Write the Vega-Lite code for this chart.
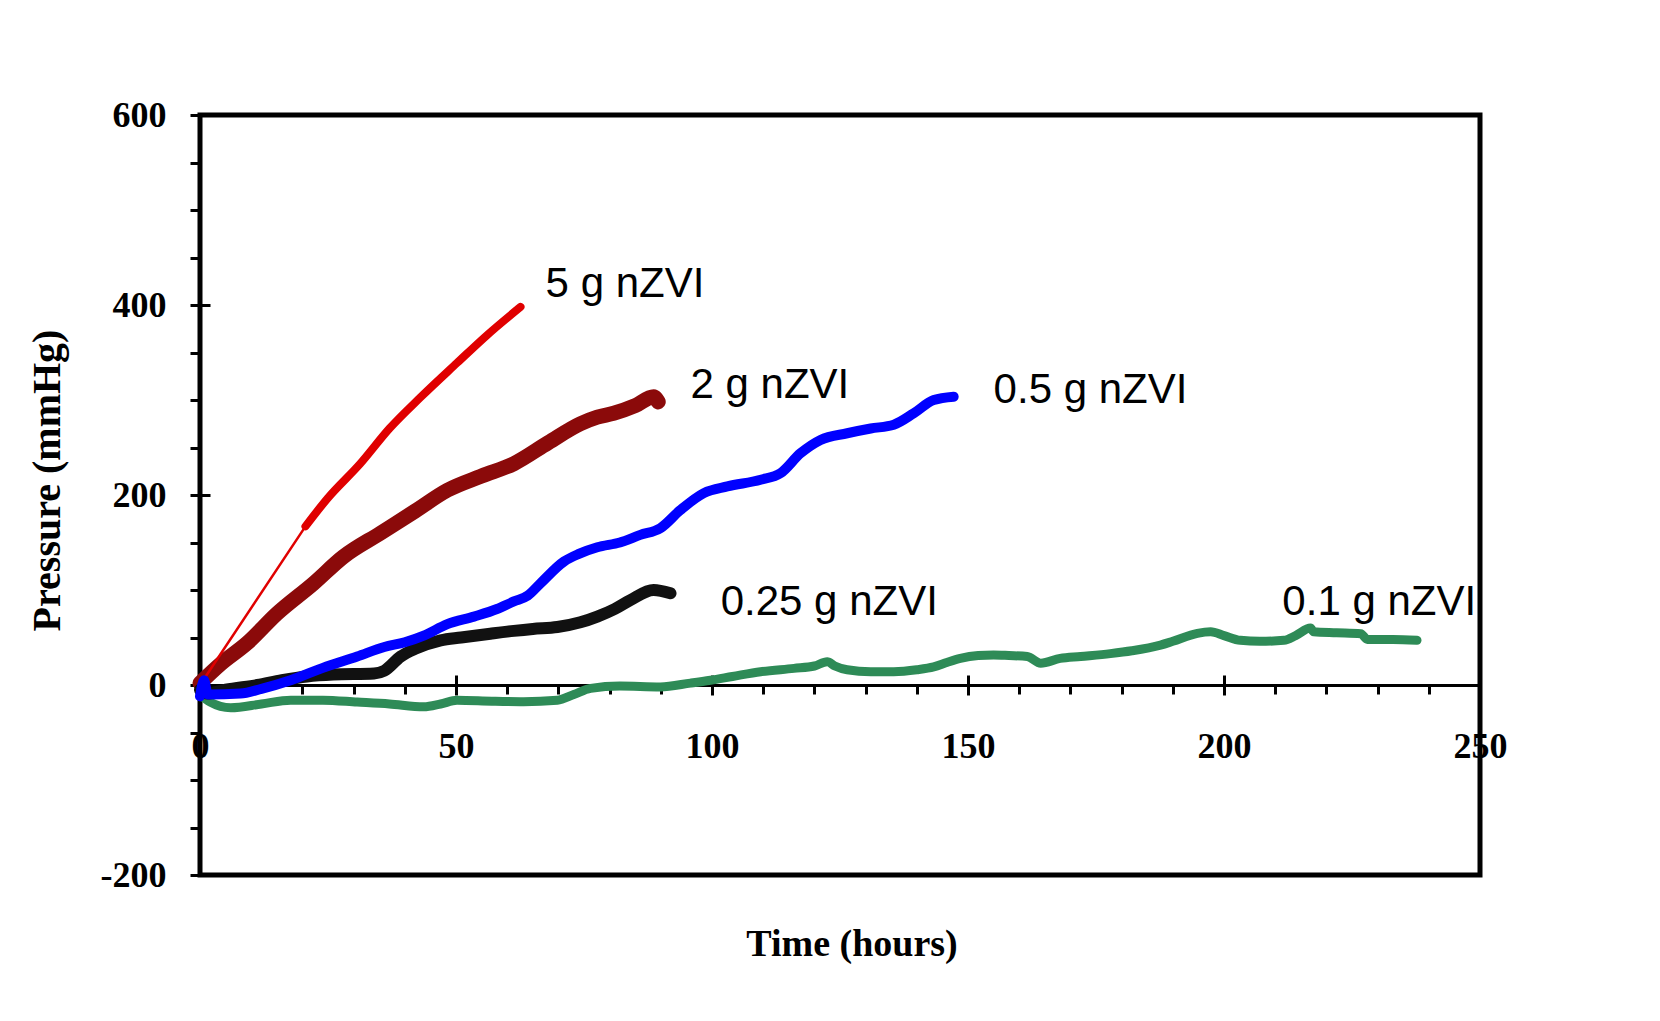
{
  "$schema": "https://vega.github.io/schema/vega-lite/v6.json",
  "width": 1280,
  "height": 760,
  "autosize": {"type": "none"},
  "padding": {"left": 200, "top": 115, "right": 180, "bottom": 146},
  "background": "white",
  "config": {
    "view": {"stroke": "black", "strokeWidth": 5},
    "axis": {"grid": false, "tickColor": "black", "domainColor": "black", "labelColor": "black", "titleColor": "black"}
  },
  "datasets": {
    "series": [
      {"sample": "0.1 g nZVI", "time": 0, "pressure": -10},
      {"sample": "0.1 g nZVI", "time": 2, "pressure": -18},
      {"sample": "0.1 g nZVI", "time": 6, "pressure": -24},
      {"sample": "0.1 g nZVI", "time": 12, "pressure": -20},
      {"sample": "0.1 g nZVI", "time": 17.7, "pressure": -16},
      {"sample": "0.1 g nZVI", "time": 24, "pressure": -16},
      {"sample": "0.1 g nZVI", "time": 30.7, "pressure": -18},
      {"sample": "0.1 g nZVI", "time": 37, "pressure": -20},
      {"sample": "0.1 g nZVI", "time": 43.7, "pressure": -23},
      {"sample": "0.1 g nZVI", "time": 47, "pressure": -20},
      {"sample": "0.1 g nZVI", "time": 50.2, "pressure": -16},
      {"sample": "0.1 g nZVI", "time": 57, "pressure": -17},
      {"sample": "0.1 g nZVI", "time": 63.2, "pressure": -17.5},
      {"sample": "0.1 g nZVI", "time": 69.8, "pressure": -16},
      {"sample": "0.1 g nZVI", "time": 73, "pressure": -10},
      {"sample": "0.1 g nZVI", "time": 76.3, "pressure": -3.5},
      {"sample": "0.1 g nZVI", "time": 82, "pressure": -1},
      {"sample": "0.1 g nZVI", "time": 89.9, "pressure": -2},
      {"sample": "0.1 g nZVI", "time": 95.8, "pressure": 2},
      {"sample": "0.1 g nZVI", "time": 99.7, "pressure": 5},
      {"sample": "0.1 g nZVI", "time": 104, "pressure": 9},
      {"sample": "0.1 g nZVI", "time": 109.5, "pressure": 14},
      {"sample": "0.1 g nZVI", "time": 116, "pressure": 17.5},
      {"sample": "0.1 g nZVI", "time": 120, "pressure": 20},
      {"sample": "0.1 g nZVI", "time": 122.5, "pressure": 24.5},
      {"sample": "0.1 g nZVI", "time": 124, "pressure": 20},
      {"sample": "0.1 g nZVI", "time": 126.4, "pressure": 16},
      {"sample": "0.1 g nZVI", "time": 131, "pressure": 14},
      {"sample": "0.1 g nZVI", "time": 135.5, "pressure": 14},
      {"sample": "0.1 g nZVI", "time": 140, "pressure": 16},
      {"sample": "0.1 g nZVI", "time": 143.3, "pressure": 19},
      {"sample": "0.1 g nZVI", "time": 146, "pressure": 24},
      {"sample": "0.1 g nZVI", "time": 148.5, "pressure": 28},
      {"sample": "0.1 g nZVI", "time": 152, "pressure": 31},
      {"sample": "0.1 g nZVI", "time": 155, "pressure": 31.6},
      {"sample": "0.1 g nZVI", "time": 158, "pressure": 31},
      {"sample": "0.1 g nZVI", "time": 161.6, "pressure": 30},
      {"sample": "0.1 g nZVI", "time": 164.2, "pressure": 23},
      {"sample": "0.1 g nZVI", "time": 168, "pressure": 28},
      {"sample": "0.1 g nZVI", "time": 172, "pressure": 30},
      {"sample": "0.1 g nZVI", "time": 177.8, "pressure": 33},
      {"sample": "0.1 g nZVI", "time": 182, "pressure": 36},
      {"sample": "0.1 g nZVI", "time": 187.6, "pressure": 42},
      {"sample": "0.1 g nZVI", "time": 190, "pressure": 46},
      {"sample": "0.1 g nZVI", "time": 194.8, "pressure": 54.4},
      {"sample": "0.1 g nZVI", "time": 197.4, "pressure": 56},
      {"sample": "0.1 g nZVI", "time": 200, "pressure": 52},
      {"sample": "0.1 g nZVI", "time": 203.2, "pressure": 47},
      {"sample": "0.1 g nZVI", "time": 207, "pressure": 46},
      {"sample": "0.1 g nZVI", "time": 211.7, "pressure": 47},
      {"sample": "0.1 g nZVI", "time": 214, "pressure": 52},
      {"sample": "0.1 g nZVI", "time": 216.9, "pressure": 60},
      {"sample": "0.1 g nZVI", "time": 217.5, "pressure": 56},
      {"sample": "0.1 g nZVI", "time": 222, "pressure": 55},
      {"sample": "0.1 g nZVI", "time": 226.7, "pressure": 54},
      {"sample": "0.1 g nZVI", "time": 228, "pressure": 48},
      {"sample": "0.1 g nZVI", "time": 233, "pressure": 48},
      {"sample": "0.1 g nZVI", "time": 237.7, "pressure": 47},

      {"sample": "0.25 g nZVI", "time": 0, "pressure": -5},
      {"sample": "0.25 g nZVI", "time": 1.4, "pressure": -9},
      {"sample": "0.25 g nZVI", "time": 5, "pressure": -5},
      {"sample": "0.25 g nZVI", "time": 11.2, "pressure": 0},
      {"sample": "0.25 g nZVI", "time": 16, "pressure": 5},
      {"sample": "0.25 g nZVI", "time": 20.9, "pressure": 9},
      {"sample": "0.25 g nZVI", "time": 26, "pressure": 11},
      {"sample": "0.25 g nZVI", "time": 34, "pressure": 12},
      {"sample": "0.25 g nZVI", "time": 36, "pressure": 15},
      {"sample": "0.25 g nZVI", "time": 39.2, "pressure": 30},
      {"sample": "0.25 g nZVI", "time": 42, "pressure": 38},
      {"sample": "0.25 g nZVI", "time": 47, "pressure": 47},
      {"sample": "0.25 g nZVI", "time": 51, "pressure": 50},
      {"sample": "0.25 g nZVI", "time": 56.7, "pressure": 54},
      {"sample": "0.25 g nZVI", "time": 61.3, "pressure": 57},
      {"sample": "0.25 g nZVI", "time": 65, "pressure": 59},
      {"sample": "0.25 g nZVI", "time": 69.8, "pressure": 61},
      {"sample": "0.25 g nZVI", "time": 74.3, "pressure": 66},
      {"sample": "0.25 g nZVI", "time": 77.6, "pressure": 72},
      {"sample": "0.25 g nZVI", "time": 81, "pressure": 80},
      {"sample": "0.25 g nZVI", "time": 84.1, "pressure": 89.5},
      {"sample": "0.25 g nZVI", "time": 88.6, "pressure": 100},
      {"sample": "0.25 g nZVI", "time": 91.9, "pressure": 96.5},

      {"sample": "2 g nZVI", "time": 0, "pressure": 2},
      {"sample": "2 g nZVI", "time": 4, "pressure": 22},
      {"sample": "2 g nZVI", "time": 9.2, "pressure": 44},
      {"sample": "2 g nZVI", "time": 15, "pressure": 75},
      {"sample": "2 g nZVI", "time": 22.2, "pressure": 107},
      {"sample": "2 g nZVI", "time": 28, "pressure": 135},
      {"sample": "2 g nZVI", "time": 35.3, "pressure": 160},
      {"sample": "2 g nZVI", "time": 42, "pressure": 183},
      {"sample": "2 g nZVI", "time": 48.3, "pressure": 205},
      {"sample": "2 g nZVI", "time": 55, "pressure": 220},
      {"sample": "2 g nZVI", "time": 61.3, "pressure": 233},
      {"sample": "2 g nZVI", "time": 68, "pressure": 255},
      {"sample": "2 g nZVI", "time": 74.3, "pressure": 275},
      {"sample": "2 g nZVI", "time": 77.6, "pressure": 282},
      {"sample": "2 g nZVI", "time": 80.8, "pressure": 286},
      {"sample": "2 g nZVI", "time": 85, "pressure": 294},
      {"sample": "2 g nZVI", "time": 88.6, "pressure": 303.5},
      {"sample": "2 g nZVI", "time": 89.5, "pressure": 298},

      {"sample": "5 g nZVI", "time": 0, "pressure": 0},
      {"sample": "5 g nZVI", "time": 20.6, "pressure": 167},
      {"sample": "5 g nZVI", "time": 25, "pressure": 197},
      {"sample": "5 g nZVI", "time": 31.3, "pressure": 233},
      {"sample": "5 g nZVI", "time": 37, "pressure": 270},
      {"sample": "5 g nZVI", "time": 43.1, "pressure": 303},
      {"sample": "5 g nZVI", "time": 50.2, "pressure": 339},
      {"sample": "5 g nZVI", "time": 56, "pressure": 368},
      {"sample": "5 g nZVI", "time": 62.6, "pressure": 398},

      {"sample": "0.5 g nZVI", "time": 0, "pressure": -12},
      {"sample": "0.5 g nZVI", "time": 0.8, "pressure": 5},
      {"sample": "0.5 g nZVI", "time": 1.5, "pressure": -10},
      {"sample": "0.5 g nZVI", "time": 7.9, "pressure": -9},
      {"sample": "0.5 g nZVI", "time": 12, "pressure": -4},
      {"sample": "0.5 g nZVI", "time": 17.7, "pressure": 5},
      {"sample": "0.5 g nZVI", "time": 24, "pressure": 18},
      {"sample": "0.5 g nZVI", "time": 30.7, "pressure": 30},
      {"sample": "0.5 g nZVI", "time": 36, "pressure": 40},
      {"sample": "0.5 g nZVI", "time": 40, "pressure": 45},
      {"sample": "0.5 g nZVI", "time": 43.7, "pressure": 52},
      {"sample": "0.5 g nZVI", "time": 48.3, "pressure": 64},
      {"sample": "0.5 g nZVI", "time": 53.5, "pressure": 72},
      {"sample": "0.5 g nZVI", "time": 58, "pressure": 80},
      {"sample": "0.5 g nZVI", "time": 61.3, "pressure": 88},
      {"sample": "0.5 g nZVI", "time": 64, "pressure": 94},
      {"sample": "0.5 g nZVI", "time": 66.5, "pressure": 107},
      {"sample": "0.5 g nZVI", "time": 71.1, "pressure": 130},
      {"sample": "0.5 g nZVI", "time": 74, "pressure": 138},
      {"sample": "0.5 g nZVI", "time": 77.6, "pressure": 145},
      {"sample": "0.5 g nZVI", "time": 82, "pressure": 150},
      {"sample": "0.5 g nZVI", "time": 86, "pressure": 158},
      {"sample": "0.5 g nZVI", "time": 89.9, "pressure": 165},
      {"sample": "0.5 g nZVI", "time": 93.8, "pressure": 184},
      {"sample": "0.5 g nZVI", "time": 98.4, "pressure": 202},
      {"sample": "0.5 g nZVI", "time": 103, "pressure": 209},
      {"sample": "0.5 g nZVI", "time": 109.5, "pressure": 216},
      {"sample": "0.5 g nZVI", "time": 113.4, "pressure": 223},
      {"sample": "0.5 g nZVI", "time": 117.3, "pressure": 244},
      {"sample": "0.5 g nZVI", "time": 121.2, "pressure": 258},
      {"sample": "0.5 g nZVI", "time": 126.4, "pressure": 265},
      {"sample": "0.5 g nZVI", "time": 131, "pressure": 270},
      {"sample": "0.5 g nZVI", "time": 135.5, "pressure": 274},
      {"sample": "0.5 g nZVI", "time": 139.4, "pressure": 286},
      {"sample": "0.5 g nZVI", "time": 143.3, "pressure": 300},
      {"sample": "0.5 g nZVI", "time": 147.2, "pressure": 303.5}
    ],
    "labels": [
      {"label": "5 g nZVI", "time": 67.5, "pressure": 408.7},
      {"label": "2 g nZVI", "time": 95.8, "pressure": 301.8},
      {"label": "0.5 g nZVI", "time": 155, "pressure": 297.2},
      {"label": "0.25 g nZVI", "time": 101.7, "pressure": 73.7},
      {"label": "0.1 g nZVI", "time": 211.4, "pressure": 73.7}
    ]
  },
  "layer": [
    {
      "data": {"name": "series"},
      "transform": [{"filter": "datum.sample === '0.1 g nZVI'"}],
      "mark": {"type": "line", "color": "#2e8b57", "strokeWidth": 9, "strokeCap": "round", "strokeJoin": "round", "interpolate": "monotone"},
      "encoding": {
        "x": {"field": "time", "type": "quantitative", "scale": {"domain": [0, 250], "nice": false, "zero": false},
          "axis": {"orient": "bottom", "offset": -190, "values": [0, 50, 100, 150, 200, 250], "labelExpr": "'' + datum.value",
            "tickSize": 10, "tickWidth": 3, "domain": true, "domainWidth": 3,
            "labelFont": "Liberation Serif", "labelFontWeight": "bold", "labelFontSize": 36,
            "labelBaseline": "alphabetic", "labelPadding": 62, "labelFlush": false, "labelOverlap": false,
            "title": "Time (hours)", "titleFont": "Liberation Serif", "titleFontWeight": "bold", "titleFontSize": 38,
            "titleX": 651.5, "titleY": 270, "titleAlign": "center", "titleBaseline": "alphabetic"}},
        "y": {"field": "pressure", "type": "quantitative", "scale": {"domain": [-200, 600], "nice": false, "zero": false},
          "axis": {"orient": "left", "values": [-200, 0, 200, 400, 600], "labelExpr": "'' + datum.value",
            "tickSize": 10, "tickWidth": 3, "domain": false,
            "labelFont": "Liberation Serif", "labelFontWeight": "bold", "labelFontSize": 36,
            "labelBaseline": "middle", "labelPadding": 24, "labelFlush": false, "labelOverlap": false,
            "title": "Pressure (mmHg)", "titleFont": "Liberation Serif", "titleFontWeight": "bold", "titleFontSize": 40,
            "titleX": -141, "titleY": 365, "titleAngle": 270, "titleAlign": "center", "titleBaseline": "alphabetic"}}
      }
    },
    {
      "data": {"name": "series"},
      "transform": [{"filter": "datum.sample === '2 g nZVI'"}],
      "mark": {"type": "line", "color": "#8b0a0a", "strokeWidth": 15, "strokeCap": "round", "strokeJoin": "round", "interpolate": "monotone"},
      "encoding": {
        "x": {"field": "time", "type": "quantitative", "scale": {"domain": [0, 250], "nice": false, "zero": false},
          "axis": {"orient": "bottom", "offset": -190, "values": [10, 20, 30, 40, 60, 70, 80, 90, 110, 120, 130, 140, 160, 170, 180, 190, 210, 220, 230, 240],
            "tickSize": 9, "tickWidth": 3, "domain": false, "labels": false, "title": null}},
        "y": {"field": "pressure", "type": "quantitative", "scale": {"domain": [-200, 600], "nice": false, "zero": false},
          "axis": {"orient": "left", "values": [-150, -100, -50, 50, 100, 150, 250, 300, 350, 450, 500, 550],
            "tickSize": 10, "tickWidth": 3, "domain": false, "labels": false, "title": null}}
      }
    },
    {
      "data": {"name": "series"},
      "transform": [{"filter": "datum.sample === '0.25 g nZVI'"}],
      "mark": {"type": "line", "color": "#111111", "strokeWidth": 12, "strokeCap": "round", "strokeJoin": "round", "interpolate": "monotone"},
      "encoding": {
        "x": {"field": "time", "type": "quantitative", "scale": {"domain": [0, 250], "nice": false, "zero": false},
          "axis": {"orient": "top", "offset": -570, "values": [50, 100, 150, 200],
            "tickSize": 10, "tickWidth": 3, "domain": false, "labels": false, "title": null}},
        "y": {"field": "pressure", "type": "quantitative", "scale": {"domain": [-200, 600], "nice": false, "zero": false},
          "axis": {"orient": "right", "offset": -1280, "values": [0, 200, 400],
            "tickSize": 10, "tickWidth": 3, "domain": false, "labels": false, "title": null}}
      }
    },
    {
      "data": {"name": "series"},
      "transform": [{"filter": "datum.sample === '5 g nZVI' && datum.time <= 20.6"}],
      "mark": {"type": "line", "color": "#e00000", "strokeWidth": 2.5, "strokeCap": "round"},
      "encoding": {
        "x": {"field": "time", "type": "quantitative", "axis": null},
        "y": {"field": "pressure", "type": "quantitative", "axis": null}
      }
    },
    {
      "data": {"name": "series"},
      "transform": [{"filter": "datum.sample === '5 g nZVI' && datum.time >= 20.6"}],
      "mark": {"type": "line", "color": "#e00000", "strokeWidth": 8, "strokeCap": "round", "strokeJoin": "round", "interpolate": "monotone"},
      "encoding": {
        "x": {"field": "time", "type": "quantitative", "axis": null},
        "y": {"field": "pressure", "type": "quantitative", "axis": null}
      }
    },
    {
      "data": {"name": "series"},
      "transform": [{"filter": "datum.sample === '0.5 g nZVI'"}],
      "mark": {"type": "line", "color": "#0000ff", "strokeWidth": 10, "strokeCap": "round", "strokeJoin": "round", "interpolate": "monotone"},
      "encoding": {
        "x": {"field": "time", "type": "quantitative", "axis": null},
        "y": {"field": "pressure", "type": "quantitative", "axis": null}
      }
    },
    {
      "data": {"name": "labels"},
      "mark": {"type": "text", "font": "Liberation Sans", "fontSize": 42, "align": "left", "baseline": "alphabetic", "color": "black"},
      "encoding": {
        "x": {"field": "time", "type": "quantitative", "axis": null},
        "y": {"field": "pressure", "type": "quantitative", "axis": null},
        "text": {"field": "label"}
      }
    }
  ],
  "resolve": {"axis": {"x": "independent", "y": "independent"}}
}
